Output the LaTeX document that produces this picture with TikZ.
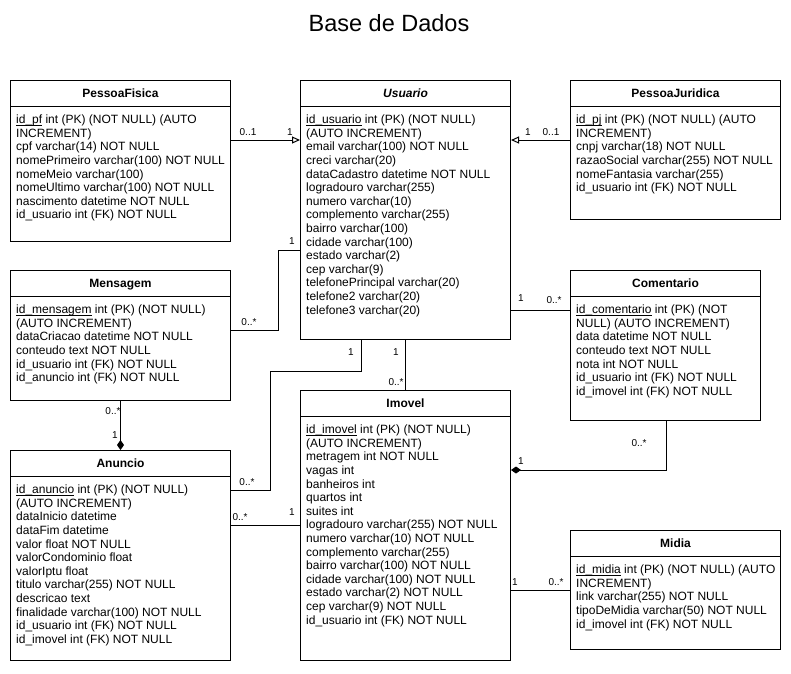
\documentclass[tikz,border=0pt]{standalone}
\usepackage{fontspec}
\setmainfont{Liberation Sans}
\usetikzlibrary{arrows.meta}
\tikzset{
  ent/.style={draw, line width=1pt, anchor=north west, inner sep=0pt},
  hdr/.style={font=\fontsize{12}{14}\selectfont\bfseries, inner sep=0pt, text height=8.6pt, text depth=0pt},
  attr/.style={anchor=north west, inner sep=0pt, align=left, font=\fontsize{12}{13.6}\selectfont},
  lbl/.style={font=\fontsize{10}{12}\selectfont, inner sep=0pt, text height=7.2pt, text depth=0pt},
  conn/.style={line width=1pt},
  inh/.style={conn, -{Triangle[open,length=8pt,width=7pt]}},
  comp/.style={conn, -{Diamond[length=10pt,width=7pt]}},
}
\newcommand{\uln}[1]{\setbox0\hbox{#1}\rlap{\rule[-2.2pt]{\wd0}{0.8pt}}\box0\relax}
\newcommand{\mkent}[7]{%
  \node[ent, minimum width=#4pt, minimum height=#5pt] (#1) at (#2,#3) {};
  \draw[line width=1pt] ([yshift=-26pt]#1.north west) -- ([yshift=-26pt]#1.north east);
  \node[hdr] (#1-t) at ([yshift=-13pt]#1.north) {#6};
  \node[attr] (#1-a) at ([xshift=6pt,yshift=-33.5pt]#1.north west) {\rule{0pt}{10pt}#7};
}
\begin{document}
\begin{tikzpicture}[x=1pt,y=-1pt]
\fill[white] (0,0) rectangle (791,673);
\useasboundingbox (0,0) rectangle (791,673);

\node[font=\fontsize{23.5}{28}\selectfont, inner sep=0pt, text height=16.8pt, text depth=0pt] (title) at (389,23) {Base de Dados};

\mkent{pf}{10}{80}{220}{161}{PessoaFisica}{\uln{id\_pf} int (PK) (NOT NULL) (AUTO\\INCREMENT)\\cpf varchar(14) NOT NULL\\nomePrimeiro varchar(100) NOT NULL\\nomeMeio varchar(100)\\nomeUltimo varchar(100) NOT NULL\\nascimento datetime NOT NULL\\id\_usuario int (FK) NOT NULL}

\mkent{us}{300}{80}{210}{259}{\itshape Usuario}{\uln{id\_usuario} int (PK) (NOT NULL)\\(AUTO INCREMENT)\\email varchar(100) NOT NULL\\creci varchar(20)\\dataCadastro datetime NOT NULL\\logradouro varchar(255)\\numero varchar(10)\\complemento varchar(255)\\bairro varchar(100)\\cidade varchar(100)\\estado varchar(2)\\cep varchar(9)\\telefonePrincipal varchar(20)\\telefone2 varchar(20)\\telefone3 varchar(20)}

\mkent{pj}{570}{80}{210}{139}{PessoaJuridica}{\uln{id\_pj} int (PK) (NOT NULL) (AUTO\\INCREMENT)\\cnpj varchar(18) NOT NULL\\razaoSocial varchar(255) NOT NULL\\nomeFantasia varchar(255)\\id\_usuario int (FK) NOT NULL}

\mkent{msg}{10}{270}{220}{130}{Mensagem}{\uln{id\_mensagem} int (PK) (NOT NULL)\\(AUTO INCREMENT)\\dataCriacao datetime NOT NULL\\conteudo text NOT NULL\\id\_usuario int (FK) NOT NULL\\id\_anuncio int (FK) NOT NULL}

\mkent{com}{570}{270}{190}{150}{Comentario}{\uln{id\_comentario} int (PK) (NOT\\NULL) (AUTO INCREMENT)\\data datetime NOT NULL\\conteudo text NOT NULL\\nota int NOT NULL\\id\_usuario int (FK) NOT NULL\\id\_imovel int (FK) NOT NULL}

\mkent{an}{10}{450}{220}{210}{Anuncio}{\uln{id\_anuncio} int (PK) (NOT NULL)\\(AUTO INCREMENT)\\dataInicio datetime\\dataFim datetime\\valor float NOT NULL\\valorCondominio float\\valorIptu float\\titulo varchar(255) NOT NULL\\descricao text\\finalidade varchar(100) NOT NULL\\id\_usuario int (FK) NOT NULL\\id\_imovel int (FK) NOT NULL}

\mkent{im}{300}{390}{210}{270}{Imovel}{\uln{id\_imovel} int (PK) (NOT NULL)\\(AUTO INCREMENT)\\metragem int NOT NULL\\vagas int\\banheiros int\\quartos int\\suites int\\logradouro varchar(255) NOT NULL\\numero varchar(10) NOT NULL\\complemento varchar(255)\\bairro varchar(100) NOT NULL\\cidade varchar(100) NOT NULL\\estado varchar(2) NOT NULL\\cep varchar(9) NOT NULL\\id\_usuario int (FK) NOT NULL}

\mkent{mid}{570}{530}{210}{119}{Midia}{\uln{id\_midia} int (PK) (NOT NULL) (AUTO\\INCREMENT)\\link varchar(255) NOT NULL\\tipoDeMidia varchar(50) NOT NULL\\id\_imovel int (FK) NOT NULL}

% connectors
\draw[inh] ([yshift=-60pt]pf.north east) -- ([yshift=-60pt]us.north west);
\draw[inh] ([yshift=-60pt]pj.north west) -- ([yshift=-60pt]us.north east);
\draw[conn] ([yshift=-60pt]msg.north east) -- ++(47,0) |- ([yshift=-170pt]us.north west);
\draw[conn] ([yshift=-230pt]us.north east) -- ([yshift=-40pt]com.north west);
\draw[conn] ([xshift=61pt]us.south west) -- ++(0,31) -- ++(-91,0) |- ([yshift=-40pt]an.north east);
\draw[conn] ([xshift=105pt]us.south west) -- ([xshift=105pt]im.north west);
\draw[conn] ([yshift=-75pt]an.north east) -- ([yshift=-135pt]im.north west);
\draw[comp] ([xshift=96pt]com.south west) |- ([yshift=-80pt]im.north east);
\draw[comp] (msg.south) -- (an.north);
\draw[conn] ([yshift=-200pt]im.north east) -- ([yshift=-60pt]mid.north west);

% labels
\node[lbl] (l1) at (248,132) {0..1};
\node[lbl] (l2) at (290,132) {1};
\node[lbl] (l3) at (528,132) {1};
\node[lbl] (l4) at (551,132) {0..1};
\node[lbl] (l5) at (292,241) {1};
\node[lbl] (l6) at (249,322) {0..*};
\node[lbl] (l7) at (521,298) {1};
\node[lbl] (l8) at (554,300) {0..*};
\node[lbl] (l9) at (351,352) {1};
\node[lbl] (l10) at (396,352) {1};
\node[lbl] (l11) at (396,382) {0..*};
\node[lbl] (l12) at (113,411) {0..*};
\node[lbl] (l13) at (115,435) {1};
\node[lbl] (l14) at (247,482) {0..*};
\node[lbl] (l15) at (240,517) {0..*};
\node[lbl] (l16) at (292,512) {1};
\node[lbl] (l17) at (639,443) {0..*};
\node[lbl] (l18) at (521,461) {1};
\node[lbl] (l19) at (515,582) {1};
\node[lbl] (l20) at (556,582) {0..*};
\end{tikzpicture}
\end{document}
